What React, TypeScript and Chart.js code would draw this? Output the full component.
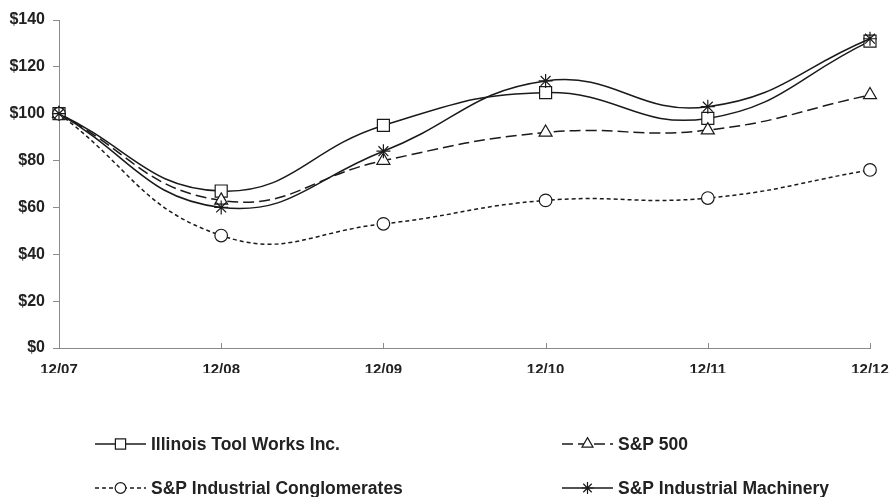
import React, { useEffect, useRef } from "react";
import { Chart, registerables } from "chart.js";
import { drawPoint } from "chart.js/helpers";

Chart.register(...registerables);

const categories = ["12/07", "12/08", "12/09", "12/10", "12/11", "12/12"];
const itwValues = [100, 67, 95, 109, 98, 131];
const sp500Values = [100, 63, 80, 92, 93, 108];
const conglomeratesValues = [100, 48, 53, 63, 64, 76];
const machineryValues = [100, 60, 84, 114, 103, 132];
const seriesNames = [
  "Illinois Tool Works Inc.",
  "S&P 500",
  "S&P Industrial Conglomerates",
  "S&P Industrial Machinery",
];
const yTickMin = 0;
const yTickMax = 140;
const yTickStep = 20;

const FONT = "'Liberation Sans', Arial, sans-serif";
const INK = "#1a1a1a";
const AXIS = "#8a8a8a";

const legendLayout = [
  { x: 95, y: 444 },
  { x: 562, y: 444 },
  { x: 95, y: 488 },
  { x: 562, y: 488 },
];

const xTickMarks = {
  id: "xTickMarks",
  beforeDatasetsDraw(chart: any) {
    const { ctx } = chart;
    const xs = chart.scales.x;
    const bottom = chart.chartArea.bottom;
    ctx.save();
    ctx.strokeStyle = AXIS;
    ctx.lineWidth = 1;
    ctx.beginPath();
    for (let i = 0; i < xs.ticks.length; i++) {
      const px = Math.round(xs.getPixelForTick(i)) + 0.5;
      ctx.moveTo(px, bottom);
      ctx.lineTo(px, bottom - 5);
    }
    ctx.stroke();
    ctx.restore();
  },
};

const bottomLegend = {
  id: "bottomLegend",
  afterDraw(chart: any) {
    const { ctx } = chart;
    ctx.save();
    chart.data.datasets.forEach((ds: any, i: number) => {
      const pos = legendLayout[i];
      const w = 51;
      ctx.strokeStyle = INK;
      ctx.lineWidth = 1.5;
      ctx.setLineDash(ds.borderDash || []);
      ctx.beginPath();
      ctx.moveTo(pos.x, pos.y);
      ctx.lineTo(pos.x + w, pos.y);
      ctx.stroke();
      ctx.setLineDash([]);
      ctx.fillStyle = "#ffffff";
      ctx.lineWidth = 1.2;
      drawPoint(
        ctx,
        { pointStyle: ds.pointStyle, radius: ds.pointRadius * 0.85, borderWidth: 1.2, rotation: 0 },
        pos.x + w / 2,
        pos.y
      );
      ctx.fillStyle = "#222";
      ctx.font = `bold 17.5px ${FONT}`;
      ctx.textBaseline = "middle";
      ctx.textAlign = "left";
      ctx.fillText(ds.label, pos.x + w + 5, pos.y + 1);
    });
    ctx.restore();
  },
};

export default function App() {
  const ref = useRef<HTMLCanvasElement | null>(null);

  useEffect(() => {
    if (!ref.current) return;
    const common = {
      borderColor: INK,
      borderWidth: 1.5,
      backgroundColor: "#ffffff",
      pointBackgroundColor: "#ffffff",
      pointBorderColor: INK,
      pointBorderWidth: 1.2,
      tension: 0.45,
      fill: false,
    };
    const chart = new Chart(ref.current, {
      type: "line",
      data: {
        labels: categories,
        datasets: [
          { ...common, label: seriesNames[0], data: itwValues, pointStyle: "rect", pointRadius: 8.5, borderDash: [], order: 3 },
          { ...common, label: seriesNames[1], data: sp500Values, pointStyle: "triangle", pointRadius: 7.5, borderDash: [11, 5], order: 2 },
          { ...common, label: seriesNames[2], data: conglomeratesValues, pointStyle: "circle", pointRadius: 6.3, borderDash: [4, 3], order: 1 },
          { ...common, label: seriesNames[3], data: machineryValues, pointStyle: "star", pointRadius: 7, borderDash: [], order: 0 },
        ],
      },
      options: {
        responsive: false,
        animation: false,
        layout: { padding: { left: 0, right: 21, top: 20, bottom: 124 } },
        plugins: { legend: { display: false }, tooltip: { enabled: false } },
        scales: {
          x: {
            type: "category",
            offset: false,
            grid: { display: true, drawOnChartArea: false, drawTicks: false },
            border: { display: true, color: AXIS, width: 1 },
            ticks: {
              color: "#222",
              padding: 13,
              maxRotation: 0,
              autoSkip: false,
              font: { family: FONT, size: 15, weight: "bold" },
            },
            afterFit(s: any) {
              s.height = 25;
              s.paddingLeft = 0;
              s.paddingRight = 0;
            },
          },
          y: {
            min: yTickMin,
            max: yTickMax,
            grid: { display: true, drawOnChartArea: false, drawTicks: true, tickLength: 6, color: AXIS },
            border: { display: true, color: AXIS, width: 1 },
            ticks: {
              stepSize: yTickStep,
              color: "#222",
              padding: 8,
              font: { family: FONT, size: 16, weight: "bold" },
              callback: (v: any) => `$${v}`,
            },
            afterFit(s: any) {
              s.width = 59;
              s.paddingTop = 0;
              s.paddingBottom = 0;
            },
          },
        },
      },
      plugins: [xTickMarks, bottomLegend],
    } as any);
    return () => chart.destroy();
  }, []);

  return (
    <div style={{ position: "absolute", left: 0, top: 0, width: 891, height: 497, background: "#fff" }}>
      <canvas ref={ref} width={891} height={497} style={{ display: "block" }} />
    </div>
  );
}
